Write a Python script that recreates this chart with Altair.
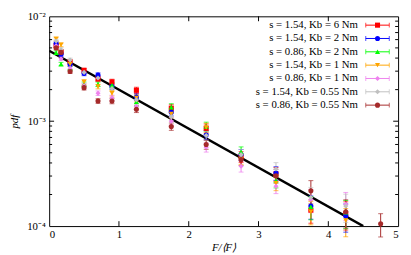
import altair as alt
import pandas as pd

# ---------------- data ----------------
F = [0.1, 0.17, 0.3, 0.5, 0.7, 0.9, 1.25, 1.75, 2.25, 2.75, 3.25, 3.75, 4.25, 4.75]
rel_err = [0.04, 0.04, 0.04, 0.05, 0.05, 0.06, 0.07, 0.08, 0.1, 0.12, 0.15, 0.25, 0.3, 0.25]

labels = [
    "s = 1.54, Kb = 6 Nm",
    "s = 1.54, Kb = 2 Nm",
    "s = 0.86, Kb = 2 Nm",
    "s = 1.54, Kb = 1 Nm",
    "s = 0.86, Kb = 1 Nm",
    "s = 1.54, Kb = 0.55 Nm",
    "s = 0.86, Kb = 0.55 Nm",
]
colors = ["#ff0000", "#0000ff", "#00ff00", "#ffa500", "#ee82ee", "#c0c0c0", "#a52a2a"]
shapes = ["square", "circle", "triangle-up", "triangle-down", "diamond", "diamond", "circle"]

pdf_s154_k6 = [5.24e-3, 4.6e-3, 3.68e-3, 3.05e-3, 2.53e-3, 2.37e-3, 1.97e-3, 1.33e-3, 8.55e-4, 4.58e-4, 3.15e-4, 1.42e-4, 1.31e-4, None]
pdf_s154_k2 = [5.5e-3, 4.34e-3, 3.5e-3, 2.86e-3, 2.75e-3, 2.14e-3, 1.7e-3, 1.22e-3, 7.4e-4, 4.8e-4, 3.2e-4, 1.55e-4, 1.25e-4, None]
pdf_s086_k2 = [4.5e-3, 3.5e-3, 3.2e-3, 2.25e-3, 2.25e-3, 2.2e-3, 1.53e-3, 1.36e-3, 8.9e-4, 5.08e-4, 2.72e-4, 1.53e-4, 1.35e-4, None]
pdf_s154_k1 = [6.1e-3, 5.35e-3, 3.5e-3, 2.37e-3, 2.14e-3, 1.85e-3, 1.67e-3, 1.17e-3, 8.7e-4, 4.4e-4, 2.56e-4, 1.37e-4, 1.13e-4, None]
pdf_s086_k1 = [5.24e-3, 3.94e-3, 3.2e-3, 2.18e-3, 1.85e-3, 1.67e-3, 1.39e-3, 1.0e-3, 5.64e-4, 3.72e-4, 2.4e-4, 1.79e-4, 1.61e-4, None]
pdf_s154_k055 = [5.82e-3, 4.83e-3, 3.84e-3, 2.92e-3, 2.58e-3, 2.05e-3, 1.6e-3, 1.1e-3, 7.3e-4, 4.8e-4, 3.5e-4, 1.87e-4, 1.55e-4, None]
pdf_s086_k055 = [5.0e-3, 4.53e-3, 2.98e-3, 2.09e-3, 1.56e-3, 1.56e-3, 1.3e-3, 8.9e-4, 6.0e-4, 4.3e-4, 3.02e-4, 2.17e-4, 1.37e-4, 1.05e-4]

series_values = [pdf_s154_k6, pdf_s154_k2, pdf_s086_k2, pdf_s154_k1,
                 pdf_s086_k1, pdf_s154_k055, pdf_s086_k055]

fit_F = [0.0, 4.5]
fit_pdf = [4.7e-3, 1.0e-4]

x_major = [1, 2, 3, 4]
y_major = [1e-3]
y_minor = [2e-4, 3e-4, 4e-4, 5e-4, 6e-4, 7e-4, 8e-4, 9e-4,
           2e-3, 3e-3, 4e-3, 5e-3, 6e-3, 7e-3, 8e-3, 9e-3]

# ---------------- tables ----------------
rows = []
for lab, vals in zip(labels, series_values):
    for f, v, e in zip(F, vals, rel_err):
        if v is None:
            continue
        rows.append({"series": lab, "F": f, "pdf": v, "lo": v * (1 - e), "hi": v * (1 + e)})
df = pd.DataFrame(rows)
fit_df = pd.DataFrame({"F": fit_F, "pdf": fit_pdf})
leg_df = pd.DataFrame({"label": labels, "row": list(range(len(labels)))})

W, H = 356, 214
FONT = "Liberation Serif"

xs = alt.Scale(domain=[0, 5], nice=False, zero=False)
ys = alt.Scale(type="log", domain=[1e-4, 1e-2], nice=False)
col = alt.Scale(domain=labels, range=colors)
shp = alt.Scale(domain=labels, range=shapes)

xaxis = alt.Axis(values=[0, 1, 2, 3, 4, 5], title="F/⟨F⟩", ticks=False, domain=False,
                 grid=False, labelFont=FONT, labelFontSize=11, labelColor="#000",
                 labelPadding=3, titleFont=FONT, titleFontSize=11, titleFontStyle="italic",
                 titleFontWeight="normal", titleColor="#000", titlePadding=2)
yaxis = alt.Axis(values=[1e-4, 1e-3, 1e-2],
                 labelExpr="datum.value > 0.005 ? '10⁻²' : (datum.value > 0.0005 ? '10⁻³' : '10⁻⁴')",
                 title="pdf", ticks=False, domain=False, grid=False, labelFont=FONT,
                 labelFontSize=11, labelColor="#000", labelPadding=4, titleFont=FONT,
                 titleFontSize=11, titleFontStyle="italic", titleFontWeight="normal",
                 titleColor="#000", titlePadding=7)

colenc = alt.Color("series:N", scale=col, legend=None)
base = alt.Chart(df)

err = base.mark_rule(strokeWidth=1).encode(
    x=alt.X("F:Q", scale=xs, axis=xaxis), y=alt.Y("lo:Q", scale=ys, axis=yaxis), y2="hi:Q", color=colenc)
cap_lo = base.mark_tick(orient="horizontal", size=5, thickness=1).encode(
    x=alt.X("F:Q", scale=xs, axis=xaxis), y=alt.Y("lo:Q", scale=ys, axis=yaxis), color=colenc)
cap_hi = base.mark_tick(orient="horizontal", size=5, thickness=1).encode(
    x=alt.X("F:Q", scale=xs, axis=xaxis), y=alt.Y("hi:Q", scale=ys, axis=yaxis), color=colenc)
pts = base.mark_point(filled=True, opacity=1, size=27).encode(
    x=alt.X("F:Q", scale=xs, axis=xaxis), y=alt.Y("pdf:Q", scale=ys, axis=yaxis),
    color=colenc, shape=alt.Shape("series:N", scale=shp, legend=None))

fit = alt.Chart(fit_df).mark_line(color="black", strokeWidth=2.5, clip=True).encode(
    x=alt.X("F:Q", scale=xs, axis=xaxis), y=alt.Y("pdf:Q", scale=ys, axis=yaxis))

xt = alt.Chart(pd.DataFrame({"t": x_major}))
xt_bot = xt.mark_rule(color="black").encode(
    x=alt.X("t:Q", scale=xs, axis=xaxis), y=alt.value(H), y2=alt.value(H - 5))
xt_top = xt.mark_rule(color="black").encode(
    x=alt.X("t:Q", scale=xs, axis=xaxis), y=alt.value(0), y2=alt.value(5))

ytM = alt.Chart(pd.DataFrame({"t": y_major}))
ytm = alt.Chart(pd.DataFrame({"t": y_minor}))
yt_layers = []
for c, L in ((ytM, 5), (ytm, 3)):
    yt_layers.append(c.mark_rule(color="black").encode(
        y=alt.Y("t:Q", scale=ys, axis=yaxis), x=alt.value(0), x2=alt.value(L)))
    yt_layers.append(c.mark_rule(color="black").encode(
        y=alt.Y("t:Q", scale=ys, axis=yaxis), x=alt.value(W), x2=alt.value(W - L)))

main = alt.layer(fit, err, cap_lo, cap_hi, pts, xt_bot, xt_top, *yt_layers)

# ---------------- legend (gnuplot style, sample on the right) ----------------
yl = alt.Y("row:Q", scale=alt.Scale(domain=[0, 6], range=[9, 9 + 13.6 * 6]), axis=None)
lcol = alt.Color("label:N", scale=col, legend=None)
lb = alt.Chart(leg_df)
leg_text = lb.mark_text(align="right", baseline="middle", font=FONT, fontSize=11, color="#000").encode(
    x=alt.value(315), y=yl, text="label:N")
leg_line = lb.mark_rule(strokeWidth=1).encode(x=alt.value(323), x2=alt.value(347), y=yl, color=lcol)
leg_cap1 = lb.mark_tick(orient="vertical", size=5, thickness=1).encode(x=alt.value(323), y=yl, color=lcol)
leg_cap2 = lb.mark_tick(orient="vertical", size=5, thickness=1).encode(x=alt.value(347), y=yl, color=lcol)
leg_pt = lb.mark_point(filled=True, opacity=1, size=27).encode(
    x=alt.value(335), y=yl, color=lcol, shape=alt.Shape("label:N", scale=shp, legend=None))
legend = alt.layer(leg_text, leg_line, leg_cap1, leg_cap2, leg_pt)

chart = alt.layer(main, legend).resolve_scale(y="independent").properties(
    width=W, height=H,
    autosize=alt.AutoSizeParams(type="none"),
    padding={"left": 42, "top": 6, "right": 5, "bottom": 27},
    background="white",
).configure_view(stroke="black", strokeWidth=1)

chart.save("out.html", embed_options={"renderer": "svg", "actions": False})
